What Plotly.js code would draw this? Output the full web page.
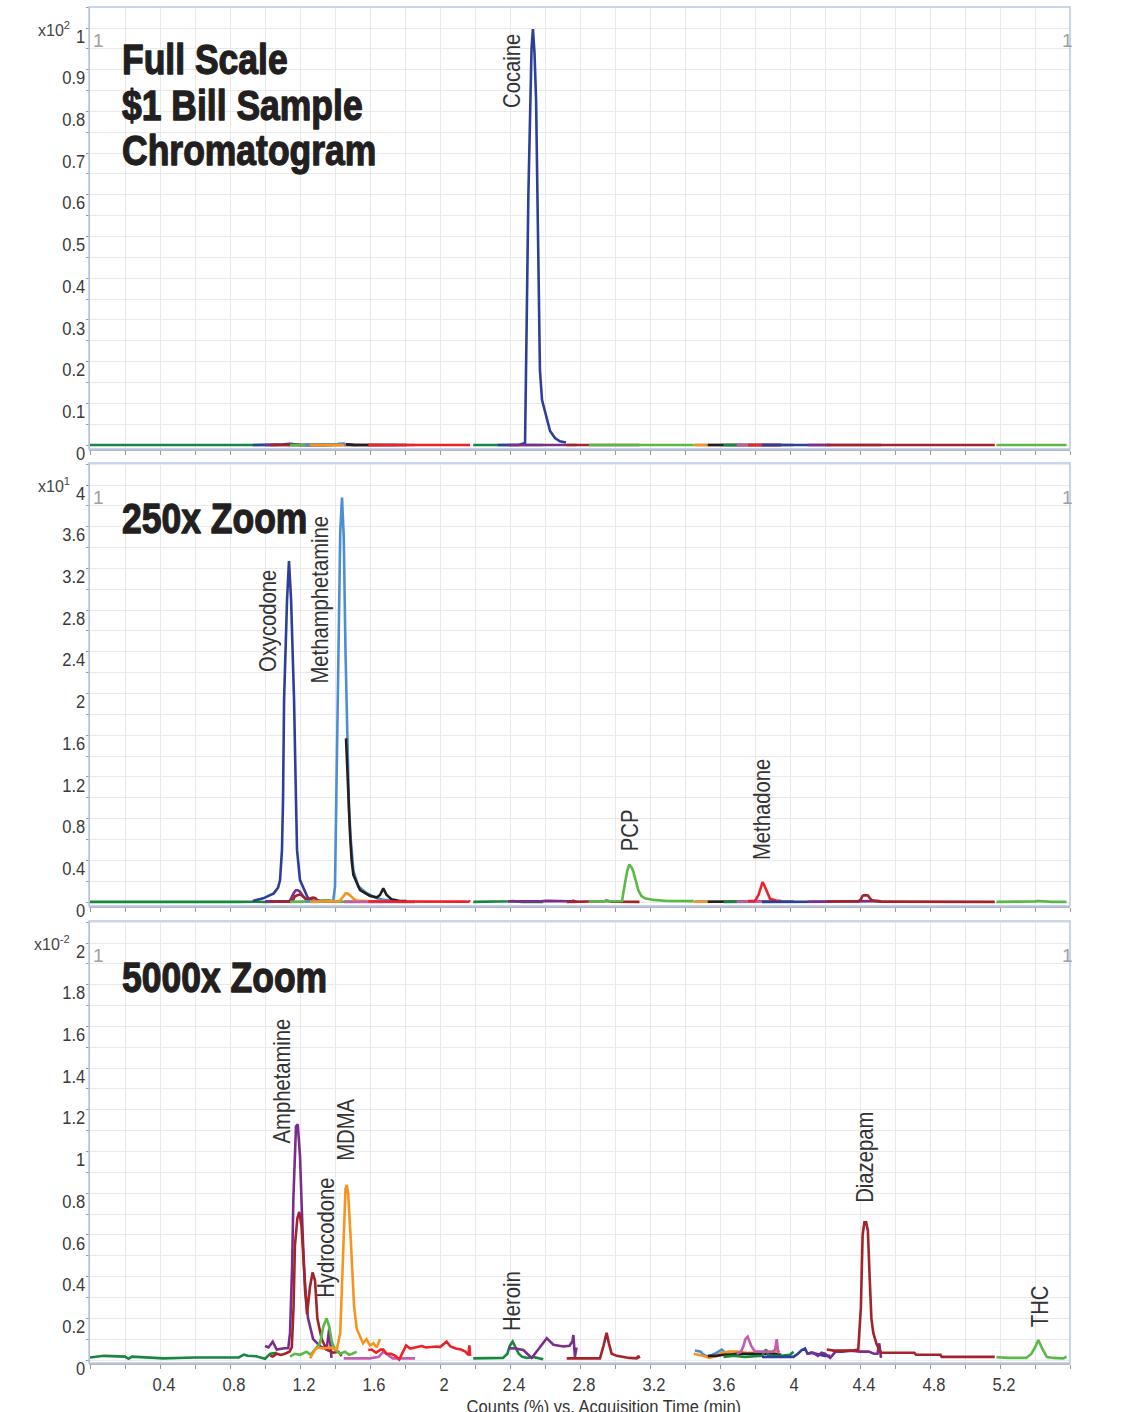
<!DOCTYPE html>
<html>
<head>
<meta charset="utf-8">
<script src="https://cdn.plot.ly/plotly-3.0.1.min.js"></script>
<style>
  html, body { margin: 0; padding: 0; background: #fff; }
  #chart { width: 1140px; height: 1412px; }
</style>
</head>
<body>
<div id="chart"></div>
<script>
// ---------------- DATA (values in units of 0.01 % of full scale) ----------------
const X_LABEL_VALS = [0.4, 0.8, 1.2, 1.6, 2, 2.4, 2.8, 3.2, 3.6, 4, 4.4, 4.8, 5.2];
const X_LABELS = ['0.4', '0.8', '1.2', '1.6', '2', '2.4', '2.8', '3.2', '3.6', '4', '4.4', '4.8', '5.2'];
const Y1_LABEL_VALS = [0, 0.1, 0.2, 0.3, 0.4, 0.5, 0.6, 0.7, 0.8, 0.9, 1];
const Y1_LABELS = ['0', '0.1', '0.2', '0.3', '0.4', '0.5', '0.6', '0.7', '0.8', '0.9', '1'];
const Y2_LABEL_VALS = [0, 0.4, 0.8, 1.2, 1.6, 2, 2.4, 2.8, 3.2, 3.6, 4];
const Y2_LABELS = ['0', '0.4', '0.8', '1.2', '1.6', '2', '2.4', '2.8', '3.2', '3.6', '4'];
const Y3_LABEL_VALS = [0, 0.2, 0.4, 0.6, 0.8, 1, 1.2, 1.4, 1.6, 1.8, 2];
const Y3_LABELS = ['0', '0.2', '0.4', '0.6', '0.8', '1', '1.2', '1.4', '1.6', '1.8', '2'];

const G1_T = [0, 0.08, 0.2, 0.22, 0.24, 0.38, 0.42, 0.6, 0.85, 0.88, 0.9, 0.95, 1.0, 1.03, 1.067];
const G1_V = [0.012, 0.02, 0.016, 0.006, 0.016, 0.012, 0.008, 0.012, 0.012, 0.026, 0.02, 0.018, 0.006, 0.03, 0.035];

const OXY_T = [0.93, 0.99, 1.05, 1.075, 1.086, 1.097, 1.103, 1.109, 1.126, 1.137, 1.149, 1.166, 1.177, 1.183, 1.2, 1.23, 1.25, 1.3, 1.35];
const OXY_V = [0.1, 0.35, 0.83, 1.4, 2.1, 5, 9.8, 19.4, 29, 32.7, 29, 19.4, 9.8, 5, 2.1, 0.86, 0.2, 0.07, 0.05];

const AMPH_T = [1.0, 1.02, 1.044, 1.067, 1.1, 1.133, 1.143, 1.155, 1.162, 1.17, 1.177, 1.187, 1.2, 1.215, 1.229, 1.246, 1.275, 1.314, 1.352, 1.367, 1.38];
const AMPH_V = [0.067, 0.06, 0.088, 0.05, 0.055, 0.057, 0.13, 0.45, 0.77, 1.0, 1.12, 1.13, 0.98, 0.61, 0.33, 0.2, 0.1, 0.067, 0.05, 0.15, 0.01];

const DR1_T = [1.03, 1.044, 1.067, 1.09, 1.114, 1.14, 1.153, 1.163, 1.171, 1.185, 1.196, 1.209, 1.22, 1.23, 1.24, 1.257, 1.272, 1.286, 1.299, 1.324, 1.352, 1.39, 1.419, 1.438];
const DR1_V = [0.02, 0.016, 0.03, 0.024, 0.03, 0.04, 0.06, 0.25, 0.55, 0.68, 0.71, 0.64, 0.48, 0.33, 0.22, 0.35, 0.42, 0.38, 0.2, 0.1, 0.05, 0.035, 0.04, 0.02];

const HYDRO_T = [1.143, 1.17, 1.2, 1.238, 1.26, 1.286, 1.314, 1.333, 1.352, 1.367, 1.381, 1.4, 1.43, 1.457, 1.48, 1.5, 1.524];
const HYDRO_V = [0.016, 0.03, 0.025, 0.04, 0.025, 0.05, 0.08, 0.16, 0.2, 0.16, 0.09, 0.05, 0.03, 0.04, 0.025, 0.03, 0.04];

const METH_T = [1.23, 1.3, 1.36, 1.39, 1.40, 1.41, 1.42, 1.43, 1.44, 1.45, 1.46, 1.47, 1.48, 1.49, 1.505, 1.533, 1.58, 1.64, 1.68, 1.75];
const METH_V = [0.05, 0.05, 0.06, 0.1, 1.5, 14, 27, 35.5, 38.8, 35, 24, 15, 9, 6, 3, 1.5, 0.86, 0.35, 0.2, 0.1];

const MDMA_T = [1.257, 1.286, 1.305, 1.33, 1.37, 1.41, 1.43, 1.448, 1.46, 1.467, 1.475, 1.49, 1.509, 1.524, 1.543, 1.56, 1.58, 1.6, 1.62, 1.638, 1.657];
const MDMA_V = [0.008, 0.05, 0.06, 0.055, 0.06, 0.05, 0.13, 0.58, 0.82, 0.84, 0.8, 0.58, 0.26, 0.15, 0.11, 0.08, 0.1, 0.07, 0.08, 0.06, 0.1];

const P1_T = [1.45, 1.52, 1.6, 1.65, 1.676, 1.7, 1.73, 1.8, 1.857];
const P1_V = [0.008, 0.008, 0.008, 0.015, 0.04, 0.025, 0.008, 0.008, 0.008];

const BLK1_T = [1.463, 1.474, 1.486, 1.495, 1.505, 1.543, 1.6, 1.64, 1.657, 1.676, 1.695, 1.724, 1.77, 1.81];
const BLK1_V = [15.7, 10.7, 6.5, 4.0, 2.6, 1.15, 0.58, 0.45, 0.67, 1.3, 0.67, 0.25, 0.1, 0.08];

const R1_T = [1.59, 1.61, 1.635, 1.66, 1.676, 1.695, 1.72, 1.745, 1.767, 1.785, 1.806, 1.83, 1.86, 1.895, 1.92, 1.95, 1.98, 2.0, 2.038, 2.06, 2.09, 2.12, 2.145, 2.162, 2.168, 2.172];
const R1_V = [0.048, 0.05, 0.035, 0.05, 0.05, 0.03, 0.03, 0.02, 0.002, 0.03, 0.07, 0.055, 0.06, 0.067, 0.06, 0.062, 0.065, 0.062, 0.088, 0.065, 0.055, 0.05, 0.04, 0.025, 0.07, 0.02];

const HER_T = [2.19, 2.3, 2.36, 2.385, 2.4, 2.415, 2.43, 2.45, 2.47, 2.5, 2.53, 2.56, 2.59];
const HER_V = [0.008, 0.008, 0.01, 0.03, 0.07, 0.088, 0.06, 0.03, 0.015, 0.01, 0.015, 0.008, 0.004];

const COC_T = [2.33, 2.45, 2.486, 2.492, 2.497, 2.505, 2.514, 2.523, 2.531, 2.54, 2.549, 2.555, 2.56, 2.566, 2.571, 2.583, 2.6, 2.629, 2.657, 2.685, 2.72];
const COC_V = [0.3, 0.4, 48, 1500, 3477, 6000, 8273, 9500, 9976, 9400, 8273, 6300, 4676, 3000, 1799, 1079, 791, 336, 168, 90, 60];

const PUR2_T = [2.39, 2.43, 2.476, 2.524, 2.57, 2.61, 2.648, 2.705, 2.74, 2.757, 2.762, 2.768, 2.771, 2.78];
const PUR2_V = [0.057, 0.055, 0.048, 0.01, 0.06, 0.105, 0.073, 0.065, 0.068, 0.09, 0.12, 0.04, 0.015, 0.06];

const DR2_T = [2.724, 2.8, 2.914, 2.935, 2.952, 2.965, 2.981, 3.01, 3.038, 3.08, 3.124, 3.133, 3.14];
const DR2_V = [0.008, 0.008, 0.008, 0.07, 0.13, 0.08, 0.03, 0.02, 0.016, 0.01, 0.008, 0.02, 0.008];

const PCP_T = [2.85, 2.95, 3.04, 3.057, 3.07, 3.082, 3.095, 3.105, 3.12, 3.133, 3.15, 3.171, 3.22, 3.3, 3.45];
const PCP_V = [0.05, 0.05, 0.1, 1.8, 3.0, 3.6, 3.3, 2.9, 2.0, 1.15, 0.6, 0.35, 0.2, 0.1, 0.08];

const LB2_T = [3.457, 3.49, 3.5, 3.53, 3.57, 3.59, 3.61, 3.63, 3.66, 3.7, 3.72];
const LB2_V = [0.046, 0.04, 0.03, 0.015, 0.03, 0.04, 0.05, 0.035, 0.035, 0.03, 0.03];

const OR2_T = [3.45, 3.48, 3.5, 3.54, 3.58, 3.61, 3.65, 3.7, 3.75, 3.8, 3.85, 3.9, 3.94];
const OR2_V = [0.03, 0.025, 0.02, 0.01, 0.02, 0.035, 0.04, 0.04, 0.035, 0.035, 0.03, 0.035, 0.045];

const BLK2_T = [3.53, 3.58, 3.62, 3.66, 3.7, 3.75, 3.8, 3.85, 3.9, 3.95];
const BLK2_V = [0.02, 0.02, 0.025, 0.025, 0.03, 0.03, 0.03, 0.03, 0.03, 0.025];

const DG3_T = [3.62, 3.68, 3.74, 3.8, 3.84, 3.855, 3.863, 3.875, 3.9, 3.95, 4.0, 4.02];
const DG3_V = [0.015, 0.02, 0.015, 0.02, 0.02, 0.04, 0.05, 0.025, 0.02, 0.02, 0.025, 0.04];

const P2_T = [3.695, 3.72, 3.733, 3.745, 3.758, 3.77, 3.78, 3.8, 3.85, 3.9, 3.915, 3.924, 3.932, 3.94];
const P2_V = [0.03, 0.04, 0.064, 0.1, 0.112, 0.09, 0.065, 0.04, 0.04, 0.04, 0.05, 0.1, 0.04, 0.035];

const MTD_T = [3.76, 3.8, 3.82, 3.833, 3.843, 3.853, 3.863, 3.875, 3.886, 3.92, 3.95];
const MTD_V = [0.08, 0.1, 0.67, 1.4, 1.9, 1.6, 1.15, 0.6, 0.3, 0.15, 0.1];

const NV2_T = [3.84, 3.9, 3.96, 4.02, 4.045, 4.067, 4.086, 4.1, 4.12, 4.15, 4.18, 4.2, 4.23];
const NV2_V = [0.015, 0.015, 0.015, 0.015, 0.03, 0.048, 0.055, 0.03, 0.035, 0.03, 0.025, 0.02, 0.02];

const PUR3_T = [4.1, 4.13, 4.16, 4.18, 4.2, 4.23, 4.26, 4.3, 4.35, 4.4, 4.45, 4.48, 4.5, 4.51, 4.52];
const PUR3_V = [0.03, 0.035, 0.02, 0.035, 0.03, 0.01, 0.04, 0.04, 0.045, 0.04, 0.04, 0.03, 0.03, 0.08, 0.01];

const DIAZ_T = [4.21, 4.25, 4.3, 4.36, 4.39, 4.405, 4.415, 4.425, 4.435, 4.445, 4.455, 4.465, 4.476, 4.495, 4.52, 4.6, 4.71, 4.72, 4.86, 4.867, 5.0, 5.17];
const DIAZ_V = [0.05, 0.045, 0.045, 0.045, 0.05, 0.25, 0.6, 0.66, 0.66, 0.62, 0.4, 0.2, 0.13, 0.075, 0.035, 0.035, 0.035, 0.025, 0.025, 0.015, 0.015, 0.015];

const THC_T = [5.18, 5.25, 5.35, 5.38, 5.4, 5.419, 5.438, 5.455, 5.467, 5.5, 5.562, 5.58];
const THC_V = [0.013, 0.01, 0.01, 0.03, 0.06, 0.096, 0.06, 0.03, 0.015, 0.01, 0.008, 0.016];

const LABEL_TEXT = ['Cocaine', 'Oxycodone', 'Methamphetamine', 'PCP', 'Methadone', 'Amphetamine', 'Hydrocodone', 'MDMA', 'Heroin', 'Diazepam', 'THC'];
const TITLE_LINES = ['Full Scale', '$1 Bill Sample', 'Chromatogram', '250x Zoom', '5000x Zoom'];
const EXPONENTS = ['2', '1', '-2'];
const X_TITLE = 'Counts (%) vs. Acquisition Time (min)';

// ---------------- STYLE ----------------
const C = {
  dgreen: '#17873f', navy: '#2e3f98', purple: '#7b2d8b', dred: '#a3232a',
  lgreen: '#5ab946', lblue: '#4b8fd1', orange: '#f7941d', pink: '#c35bb0',
  black: '#231f20', red: '#ee2128'
};
const FONT = '"Liberation Sans", Arial, sans-serif';

const SERIES = [
  [G1_T, G1_V, C.dgreen, [1, 2, 3]],
  [OXY_T, OXY_V, C.navy, [1, 2]],
  [AMPH_T, AMPH_V, C.purple, [1, 2, 3]],
  [DR1_T, DR1_V, C.dred, [1, 2, 3]],
  [HYDRO_T, HYDRO_V, C.lgreen, [1, 2, 3]],
  [METH_T, METH_V, C.lblue, [1, 2]],
  [MDMA_T, MDMA_V, C.orange, [1, 2, 3]],
  [P1_T, P1_V, C.pink, [1, 2, 3]],
  [BLK1_T, BLK1_V, C.black, [1, 2]],
  [R1_T, R1_V, C.red, [1, 2, 3]],
  [HER_T, HER_V, C.dgreen, [1, 2, 3]],
  [COC_T, COC_V, C.navy, [1]],
  [PUR2_T, PUR2_V, C.purple, [1, 2, 3]],
  [DR2_T, DR2_V, C.dred, [1, 2, 3]],
  [PCP_T, PCP_V, C.lgreen, [1, 2]],
  [LB2_T, LB2_V, C.lblue, [1, 2, 3]],
  [OR2_T, OR2_V, C.orange, [1, 2, 3]],
  [BLK2_T, BLK2_V, C.black, [1, 2, 3]],
  [DG3_T, DG3_V, C.dgreen, [1, 2, 3]],
  [P2_T, P2_V, C.pink, [1, 2, 3]],
  [MTD_T, MTD_V, C.red, [1, 2]],
  [NV2_T, NV2_V, C.navy, [1, 2, 3]],
  [PUR3_T, PUR3_V, C.purple, [1, 2, 3]],
  [DIAZ_T, DIAZ_V, C.dred, [1, 2, 3]],
  [THC_T, THC_V, C.lgreen, [1, 2, 3]]
];
const PANEL_SCALE = {1: 1 / 10000, 2: 1 / 10, 3: 1};
const PANEL_AX = {1: ['x', 'y'], 2: ['x2', 'y2'], 3: ['x3', 'y3']};

const traces = [];
[1, 2, 3].forEach(p => {
  SERIES.forEach(s => {
    if (s[3].indexOf(p) < 0) return;
    traces.push({
      type: 'scatter', mode: 'lines',
      x: s[0], y: s[1].map(v => v * PANEL_SCALE[p]),
      xaxis: PANEL_AX[p][0], yaxis: PANEL_AX[p][1],
      line: {color: s[2], width: 2.6},
      hoverinfo: 'skip', showlegend: false
    });
  });
});

// ---------------- LAYOUT ----------------
const W = 1140, H = 1412;
const px = v => v / W;
const py = v => 1 - v / H;
const GRID = '#e9e9e9';
const tickFont = {family: FONT, size: 19, color: '#3a3a3a'};
const TICK_SQUEEZE = 0.87;

function xAxis(anchor, labels) {
  return {
    domain: [px(90), px(1070)], anchor: anchor, range: [0, 5.6],
    tickmode: 'array', tickvals: X_LABEL_VALS, ticktext: X_LABELS,
    showticklabels: labels, ticks: 'outside', ticklen: 4, tickcolor: '#9a9a9a',
    showgrid: true, gridcolor: GRID, gridwidth: 1,
    minor: {tickmode: 'linear', tick0: 0, dtick: 0.2, ticks: 'outside', ticklen: 4, tickcolor: '#9a9a9a', showgrid: true, gridcolor: GRID},
    showline: true, linecolor: '#b5b8c2', linewidth: 1.5,
    zeroline: false, tickfont: tickFont, ticklabelshift: 4, fixedrange: true
  };
}
function yAxis(anchor, p, vals, text, minorStep) {
  const lo = -(p.bottom - p.zero) / p.ppu;
  const hi = lo + (p.bottom - p.top) / p.ppu;
  return {
    domain: [py(p.bottom), py(p.top)], anchor: anchor, range: [lo, hi],
    tickmode: 'array', tickvals: vals, ticktext: text,
    ticks: 'outside', ticklen: 3, tickcolor: '#9a9a9a',
    showgrid: true, gridcolor: GRID, gridwidth: 1,
    minor: {tickmode: 'linear', tick0: 0, dtick: minorStep, ticks: 'outside', ticklen: 3, tickcolor: '#9a9a9a', showgrid: true, gridcolor: GRID},
    showline: true, linecolor: '#a8a8a8', linewidth: 1,
    zeroline: false, tickfont: tickFont, ticklabelshift: 8, fixedrange: true
  };
}

const P1 = {top: 7, bottom: 449, zero: 445, ppu: 417};
const P2 = {top: 463, bottom: 906, zero: 902, ppu: 104.25};
const P3 = {top: 921, bottom: 1363, zero: 1360, ppu: 208.5};

const annotations = [];
const squeeze = [];
const heavy = [];
function ann(text, x, y, opts, sq, hv) {
  annotations.push(Object.assign({
    text: text, x: px(x), y: py(y), xref: 'paper', yref: 'paper',
    showarrow: false, xanchor: 'center', yanchor: 'middle',
    font: {family: FONT, size: 20, color: '#333'}
  }, opts || {}));
  squeeze.push(sq || 1);
  heavy.push(!!hv);
}
const titleFont = {family: FONT, size: 42, color: '#231f20', weight: 'bold'};
const TITLE_POS = [59, 105, 150, 518, 978];
TITLE_LINES.forEach((t, i) => ann('<b>' + t + '</b>', 120, TITLE_POS[i], {xanchor: 'left', font: titleFont}, 0.845, true));

const expFont = {family: FONT, size: 16, color: '#444'};
const EXP_POS = [29, 485, 943];
EXPONENTS.forEach((e, i) => ann('x10<sup>' + e + '</sup>', 72, EXP_POS[i], {xanchor: 'right', font: expFont}));

const oneFont = {family: FONT, size: 19, color: '#a0a0a0'};
[40, 497, 955].forEach(y => {
  ann('1', 98, y, {font: oneFont});
  ann('1', 1067, y, {font: oneFont});
});
const LABEL_POS = [[512, 71], [268, 621], [320, 600], [630, 831], [762, 810], [282, 1081], [326, 1238], [346, 1130], [512, 1301], [865, 1157], [1040, 1307]];
LABEL_TEXT.forEach((t, i) => {
  ann(t, LABEL_POS[i][0], LABEL_POS[i][1], {textangle: -90, font: {family: FONT, size: 23, color: '#333'}}, 0.88);
});
ann(X_TITLE, 604, 1394, {yanchor: 'top', font: {family: FONT, size: 19, color: '#333'}}, TICK_SQUEEZE);

const shapes = [P1, P2, P3].map(p => ({
  type: 'rect', xref: 'paper', yref: 'paper',
  x0: px(89), x1: px(1070), y0: py(p.bottom), y1: py(p.top),
  line: {color: '#b7c8e8', width: 1.5}, fillcolor: 'rgba(0,0,0,0)', layer: 'above'
}));

const layout = {
  width: W, height: H,
  margin: {l: 0, r: 0, t: 0, b: 0},
  paper_bgcolor: '#fff', plot_bgcolor: '#fff',
  showlegend: false,
  xaxis: xAxis('y', false),
  xaxis2: xAxis('y2', false),
  xaxis3: xAxis('y3', true),
  yaxis: yAxis('x', P1, Y1_LABEL_VALS, Y1_LABELS, 0.05),
  yaxis2: yAxis('x2', P2, Y2_LABEL_VALS, Y2_LABELS, 0.2),
  yaxis3: yAxis('x3', P3, Y3_LABEL_VALS, Y3_LABELS, 0.1),
  annotations: annotations,
  shapes: shapes
};

// horizontally condense text (the reference uses a condensed typeface)
function squeezeText(t, s, mode, dx) {
  if (!t) return;
  const bb = t.getBBox();
  const ax = mode === 'left' ? bb.x : mode === 'right' ? bb.x + bb.width : bb.x + bb.width / 2;
  const prev = t.getAttribute('transform') || '';
  t.setAttribute('transform', prev + ' translate(' + (ax + (dx || 0)) + ',0) scale(' + s + ',1) translate(' + (-ax) + ',0)');
}

const gd = document.getElementById('chart');
Plotly.newPlot(gd, traces, layout, {displayModeBar: false, staticPlot: true}).then(() => {
  gd.querySelectorAll('g.annotation').forEach(g => {
    const i = +g.getAttribute('data-index');
    const a = annotations[i];
    const t = g.querySelector('text.annotation-text');
    if (squeeze[i] !== 1) squeezeText(t, squeeze[i], a.textangle ? 'center' : a.xanchor, 0);
    if (heavy[i] && t) {
      t.style.stroke = '#231f20';
      t.style.strokeWidth = '1.3px';
      t.style.strokeLinejoin = 'round';
    }
  });
  gd.querySelectorAll('g.yaxislayer-above text, g.y2axislayer-above text, g.y3axislayer-above text').forEach(t => squeezeText(t, TICK_SQUEEZE, 'right', 3));
  gd.querySelectorAll('g.xaxislayer-above text, g.x2axislayer-above text, g.x3axislayer-above text').forEach(t => squeezeText(t, TICK_SQUEEZE, 'center', 0));
});
</script>
</body>
</html>
